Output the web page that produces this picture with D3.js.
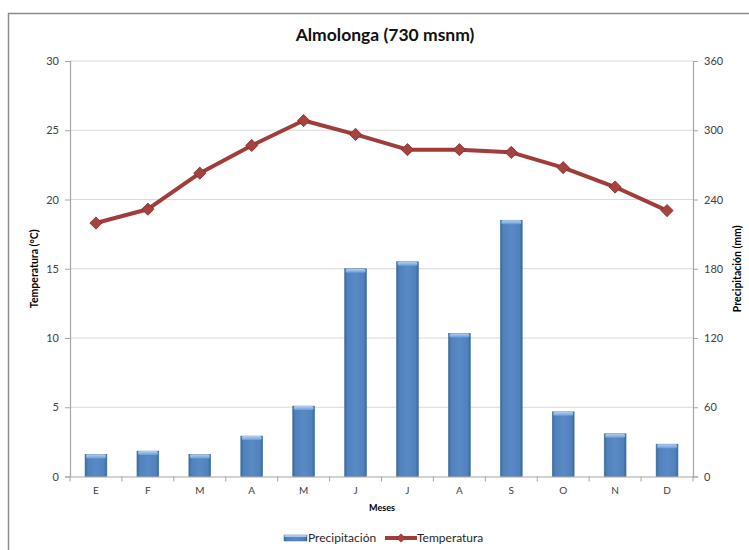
<!DOCTYPE html>
<html>
<head>
<meta charset="utf-8">
<script src="https://cdn.jsdelivr.net/npm/d3@7"></script>
<style>
  body { margin: 0; background: #fff; }
  text { font-family: Lato, "Open Sans", sans-serif; }
</style>
</head>
<body>
<div id="chart"></div>
<script>
// data
const months = ["E", "F", "M", "A", "M", "J", "J", "A", "S", "O", "N", "D"];
const precip = [19, 22, 19, 35, 61, 180, 186, 124, 222, 56, 37, 28];
const temp = [18.3, 19.3, 21.9, 23.9, 25.7, 24.7, 23.6, 23.6, 23.4, 22.3, 20.9, 19.2];
const tempTicks = [0, 5, 10, 15, 20, 25, 30];
const precipTicks = [0, 60, 120, 180, 240, 300, 360];

const width = 749, height = 550;
const plot = { left: 70, right: 693, top: 61, bottom: 476.5 };

const svg = d3.select("#chart").append("svg")
    .attr("width", width)
    .attr("height", height);

const defs = svg.append("defs");

// bar body: darker edges, lighter middle (Excel 2007 look)
const barGrad = defs.append("linearGradient").attr("id", "barGrad")
    .attr("x1", "0").attr("x2", "1").attr("y1", "0").attr("y2", "0");
barGrad.append("stop").attr("offset", "0").attr("stop-color", "#3a6599");
barGrad.append("stop").attr("offset", "0.12").attr("stop-color", "#4f81bd");
barGrad.append("stop").attr("offset", "0.5").attr("stop-color", "#5a8ac4");
barGrad.append("stop").attr("offset", "0.88").attr("stop-color", "#4f81bd");
barGrad.append("stop").attr("offset", "1").attr("stop-color", "#3a6599");

const capGrad = defs.append("linearGradient").attr("id", "capGrad")
    .attr("x1", "0").attr("x2", "0").attr("y1", "0").attr("y2", "1");
capGrad.append("stop").attr("offset", "0").attr("stop-color", "#b4d0f2");
capGrad.append("stop").attr("offset", "1").attr("stop-color", "#6b9bd6");

// outer chart frame
svg.append("rect")
    .attr("x", 8.5).attr("y", 13.5)
    .attr("width", 780).attr("height", 580)
    .attr("fill", "#fff")
    .attr("stroke", "#8c8c8c")
    .attr("stroke-width", 1.5);

const x = d3.scaleBand()
    .domain(d3.range(months.length))
    .range([plot.left, plot.right])
    .paddingInner(0.58)
    .paddingOuter(0.29);

const yT = d3.scaleLinear().domain([0, 30]).range([plot.bottom, plot.top]);
const yP = d3.scaleLinear().domain([0, 360]).range([plot.bottom, plot.top]);

// gridlines
svg.append("g")
    .selectAll("line")
    .data(tempTicks.slice(1))
    .join("line")
    .attr("x1", plot.left).attr("x2", plot.right)
    .attr("y1", d => yT(d)).attr("y2", d => yT(d))
    .attr("stroke", "#d9d9d9")
    .attr("stroke-width", 1.2);

// left axis
const axL = svg.append("g")
    .attr("transform", `translate(${plot.left},0)`)
    .call(d3.axisLeft(yT).tickValues(tempTicks).tickSize(5).tickPadding(6));
// right axis
const axR = svg.append("g")
    .attr("transform", `translate(${plot.right},0)`)
    .call(d3.axisRight(yP).tickValues(precipTicks).tickSize(5).tickPadding(6));

[axL, axR].forEach(g => {
    g.select(".domain").attr("stroke", "#a6a6a6").attr("stroke-width", 1.2);
    g.selectAll(".tick line").attr("stroke", "#a6a6a6");
    g.selectAll(".tick text")
        .attr("font-family", "Lato, sans-serif")
        .attr("font-size", 11)
        .attr("fill", "#404040");
});

// bars
const bars = svg.append("g").selectAll("g")
    .data(precip)
    .join("g");

bars.append("rect")
    .attr("x", (d, i) => x(i))
    .attr("y", d => yP(d))
    .attr("width", x.bandwidth())
    .attr("height", d => plot.bottom - yP(d))
    .attr("fill", "url(#barGrad)")
    .attr("stroke", "#41719c")
    .attr("stroke-width", 0.6);

bars.append("rect")
    .attr("x", (d, i) => x(i) + 1)
    .attr("y", d => yP(d))
    .attr("width", x.bandwidth() - 2)
    .attr("height", 4)
    .attr("rx", 1.5)
    .attr("fill", "url(#capGrad)");

// bottom axis (drawn over bars)
const axB = svg.append("g")
    .attr("transform", `translate(0,${plot.bottom})`)
    .call(d3.axisBottom(x).tickSize(0).tickPadding(10).tickFormat(i => months[i]));
axB.select(".domain").attr("stroke", "#a6a6a6").attr("stroke-width", 1.2);
axB.selectAll(".tick text")
    .attr("font-family", "Lato, sans-serif")
    .attr("font-size", 10)
    .attr("fill", "#404040");

// tick marks at band boundaries
svg.append("g").selectAll("line")
    .data(d3.range(months.length + 1))
    .join("line")
    .attr("x1", i => plot.left + i * (plot.right - plot.left) / months.length)
    .attr("x2", i => plot.left + i * (plot.right - plot.left) / months.length)
    .attr("y1", plot.bottom).attr("y2", plot.bottom + 5)
    .attr("stroke", "#a6a6a6");

// temperature line
const cx = i => x(i) + x.bandwidth() / 2;
const line = d3.line()
    .x((d, i) => cx(i))
    .y(d => yT(d));

svg.append("path")
    .datum(temp)
    .attr("d", line)
    .attr("fill", "none")
    .attr("stroke", "#a03c3a")
    .attr("stroke-width", 4)
    .attr("stroke-linejoin", "round");

const diamond = d3.symbol().type(d3.symbolDiamond2).size(95);
svg.append("g").selectAll("path")
    .data(temp)
    .join("path")
    .attr("d", diamond)
    .attr("transform", (d, i) => `translate(${cx(i)},${yT(d)})`)
    .attr("fill", "#a8423f")
    .attr("stroke", "#7a2d2b")
    .attr("stroke-width", 0.8);

// titles
svg.append("text")
    .attr("x", 385).attr("y", 41)
    .attr("text-anchor", "middle")
    .attr("font-size", 17.5)
    .attr("font-weight", "bold")
    .attr("fill", "#111")
    .text("Almolonga (730 msnm)");

svg.append("text")
    .attr("transform", `translate(38,${(plot.top + plot.bottom) / 2}) rotate(-90)`)
    .attr("text-anchor", "middle")
    .attr("font-size", 10.5)
    .attr("font-weight", "bold")
    .text("Temperatura (°C)");

svg.append("text")
    .attr("transform", `translate(741,${(plot.top + plot.bottom) / 2}) rotate(-90)`)
    .attr("text-anchor", "middle")
    .attr("font-size", 10.5)
    .attr("font-weight", "bold")
    .text("Precipitación (mm)");

svg.append("text")
    .attr("x", 382).attr("y", 511)
    .attr("text-anchor", "middle")
    .attr("font-size", 9)
    .attr("font-weight", "bold")
    .text("Meses");

// legend
const leg = svg.append("g").attr("transform", "translate(284,538)");
leg.append("rect")
    .attr("x", 0).attr("y", -3).attr("width", 23).attr("height", 6)
    .attr("fill", "url(#barGrad)").attr("stroke", "#41719c").attr("stroke-width", 0.5);
leg.append("rect")
    .attr("x", 0.5).attr("y", -3).attr("width", 22).attr("height", 2)
    .attr("fill", "#a9c8ee");
leg.append("text")
    .attr("x", 24).attr("y", 4)
    .attr("font-size", 12)
    .attr("fill", "#262626")
    .text("Precipitación");
leg.append("line")
    .attr("x1", 101).attr("x2", 133).attr("y1", 0).attr("y2", 0)
    .attr("stroke", "#a03c3a").attr("stroke-width", 4);
leg.append("path")
    .attr("d", d3.symbol().type(d3.symbolDiamond2).size(45))
    .attr("transform", "translate(117,0)")
    .attr("fill", "#a8423f").attr("stroke", "#7a2d2b").attr("stroke-width", 0.6);
leg.append("text")
    .attr("x", 133).attr("y", 4)
    .attr("font-size", 12)
    .attr("fill", "#262626")
    .text("Temperatura");
</script>
</body>
</html>
